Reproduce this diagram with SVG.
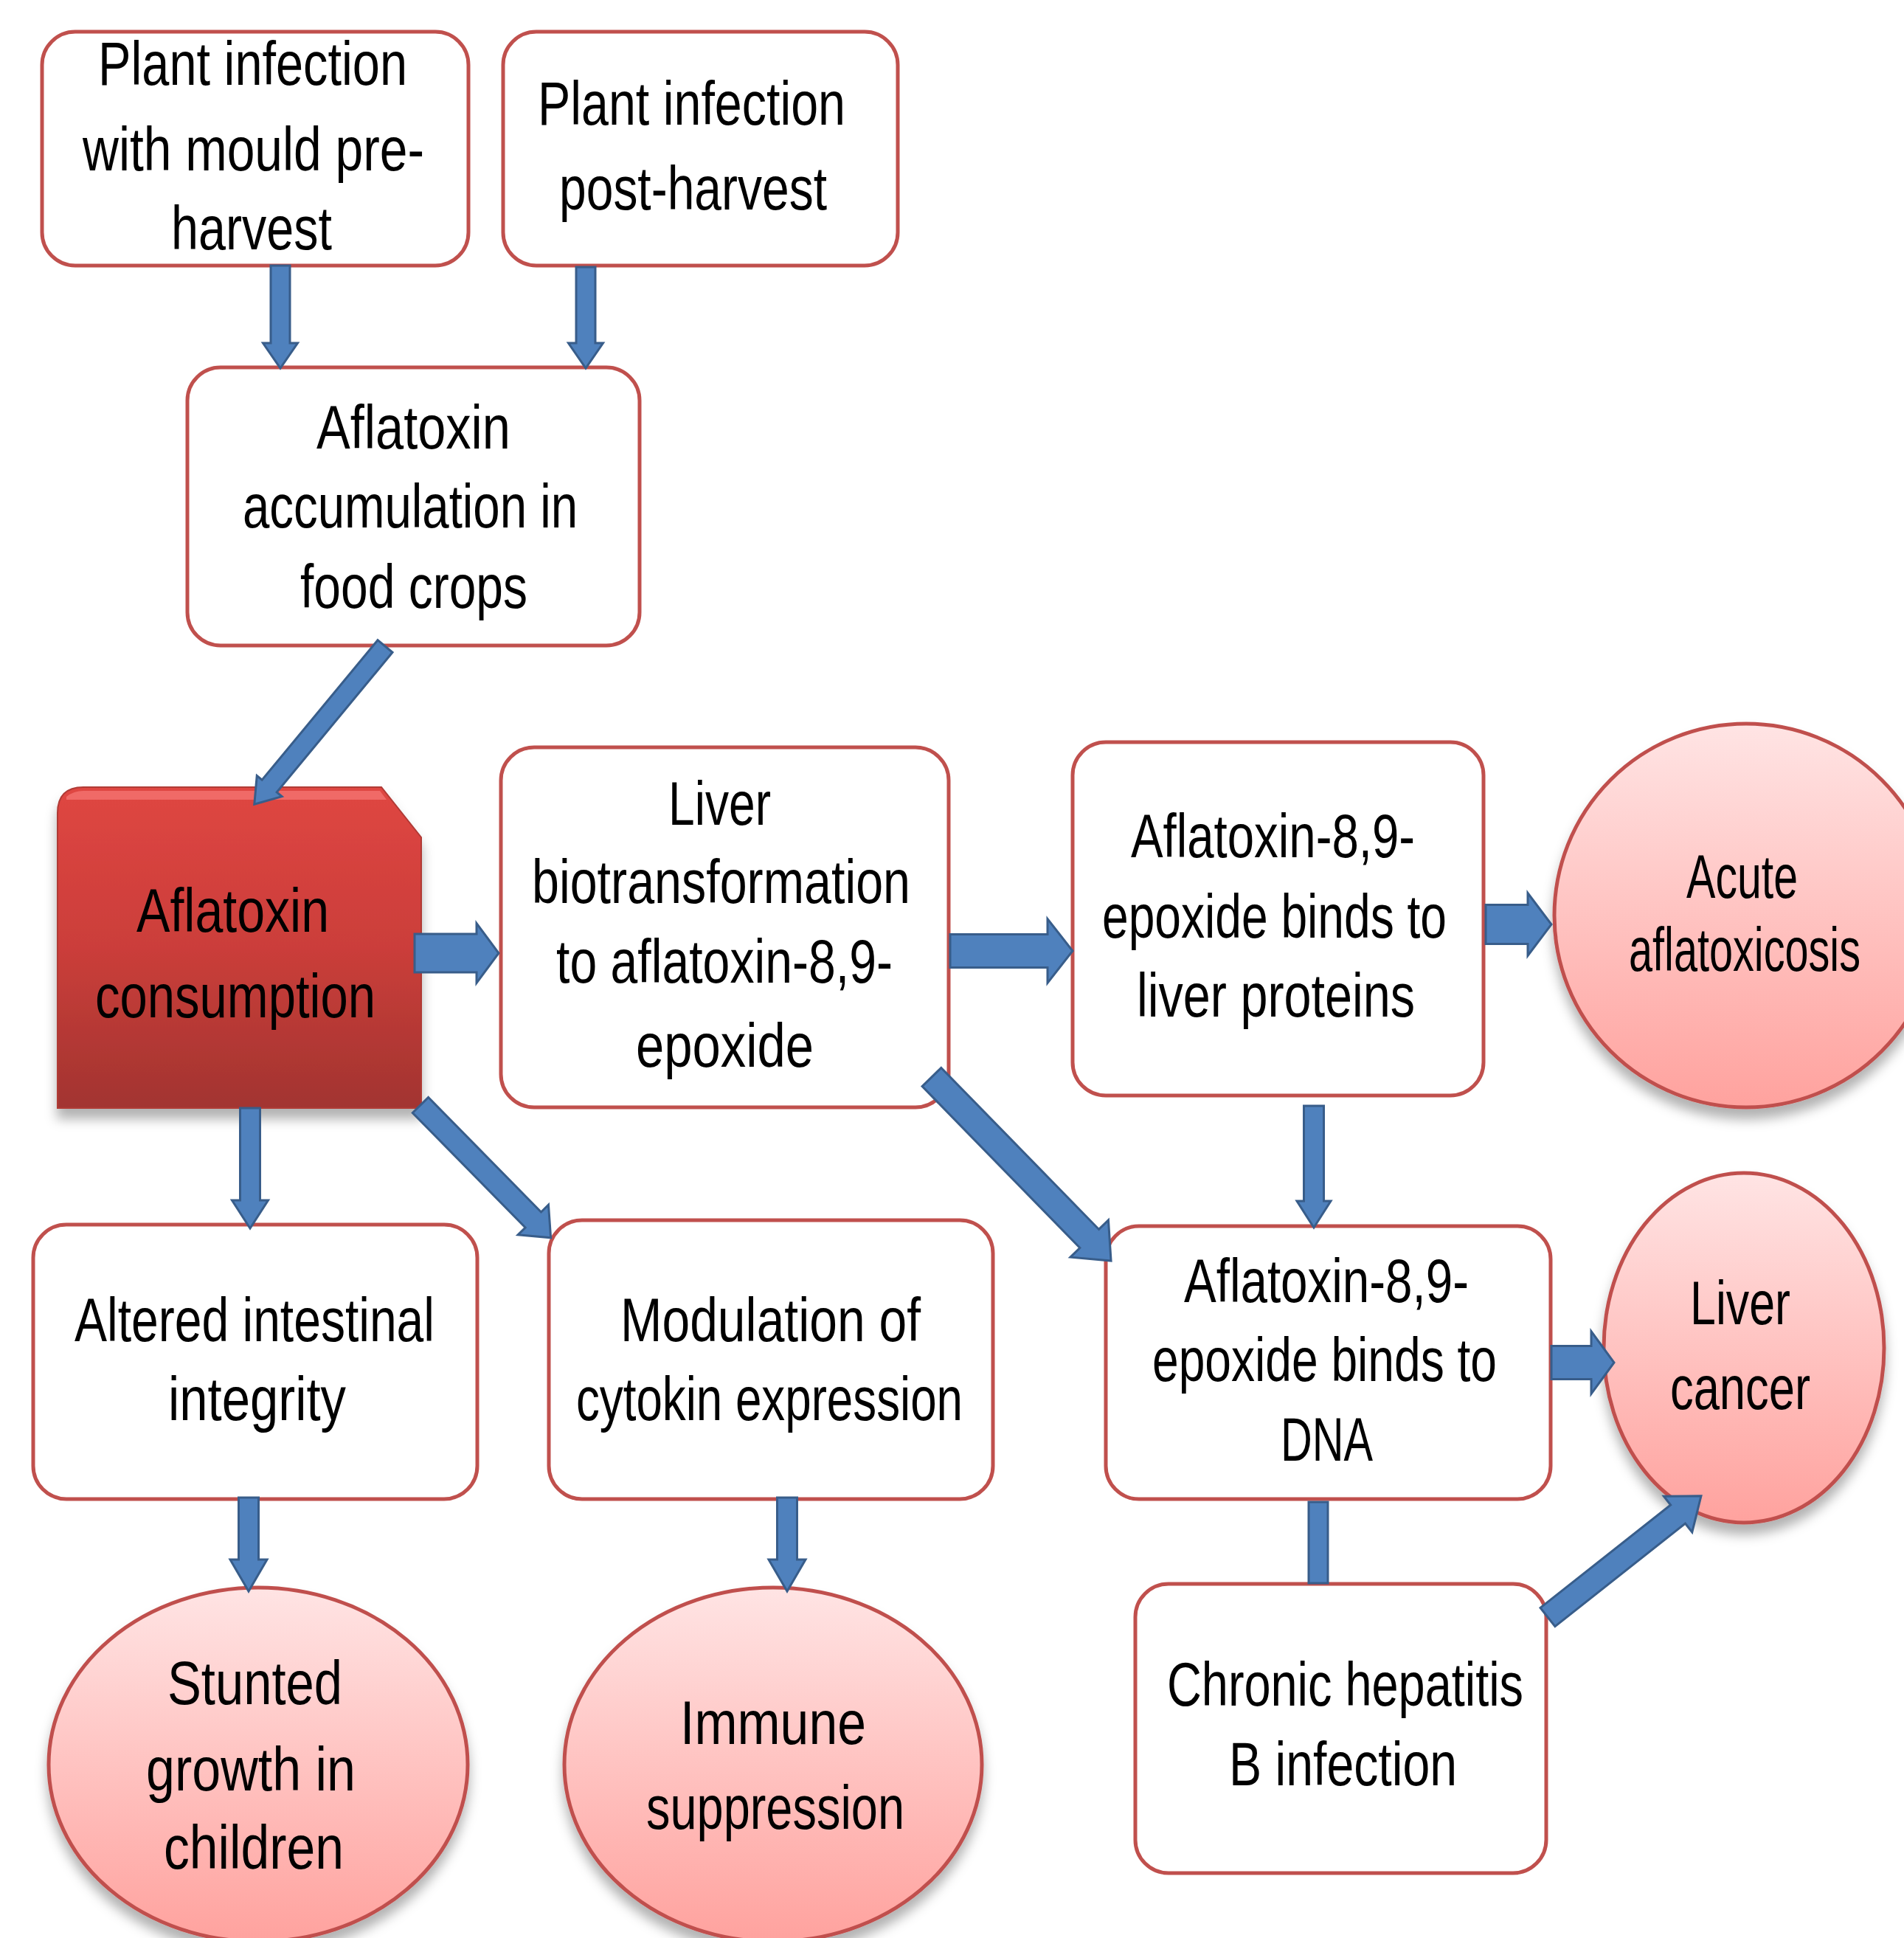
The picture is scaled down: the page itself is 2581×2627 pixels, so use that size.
<svg xmlns="http://www.w3.org/2000/svg" width="2581" height="2627" viewBox="0 0 2581 2627">
<defs>
<linearGradient id="gRed" x1="0" y1="0" x2="0" y2="1">
<stop offset="0" stop-color="#DF4642"/>
<stop offset="0.5" stop-color="#CB3E3A"/>
<stop offset="1" stop-color="#A23430"/>
</linearGradient>
<linearGradient id="gPink" x1="0" y1="0" x2="0" y2="1">
<stop offset="0" stop-color="#FFE4E4"/>
<stop offset="1" stop-color="#FFA29E"/>
</linearGradient>
<filter id="sh" x="-20%" y="-20%" width="140%" height="140%">
<feDropShadow dx="0" dy="14" stdDeviation="8" flood-color="#000" flood-opacity="0.3"/>
</filter>
</defs>
<style>
.box{fill:#FFFFFF;stroke:#C0504D;stroke-width:5}
.ell{fill:url(#gPink);stroke:#C0504D;stroke-width:5}
.arr{fill:#4F81BD;stroke:#385D8A;stroke-width:3}
text{font-family:"Liberation Sans",Arial,sans-serif;font-size:84px;fill:#000}
</style>
<rect width="2581" height="2627" fill="#FFFFFF"/>

<g id="n1"><rect class="box" x="57" y="43" width="578" height="317" rx="45"/>
<text x="133" y="115" textLength="419" lengthAdjust="spacingAndGlyphs">Plant infection</text>
<text x="112" y="231" textLength="463" lengthAdjust="spacingAndGlyphs">with mould pre-</text>
<text x="232" y="338" textLength="218" lengthAdjust="spacingAndGlyphs">harvest</text></g>

<g id="n2"><rect class="box" x="682" y="43" width="535" height="317" rx="45"/>
<text x="729" y="169" textLength="417" lengthAdjust="spacingAndGlyphs">Plant infection</text>
<text x="758" y="284" textLength="363" lengthAdjust="spacingAndGlyphs">post-harvest</text></g>

<g id="n3"><rect class="box" x="254" y="498" width="613" height="377" rx="45"/>
<text x="429" y="608" textLength="263" lengthAdjust="spacingAndGlyphs">Aflatoxin</text>
<text x="329" y="715" textLength="454" lengthAdjust="spacingAndGlyphs">accumulation in</text>
<text x="407" y="824" textLength="308" lengthAdjust="spacingAndGlyphs">food crops</text></g>

<g id="n4"><path d="M78,1102 Q78,1067 113,1067 L517,1067 L571,1135 L571,1502 L78,1502 Z" fill="url(#gRed)" stroke="#B03A36" stroke-width="2" filter="url(#sh)"/>
<path d="M90,1080 Q100,1072 113,1072 L515,1072 L524,1084 L90,1084 Z" fill="#F47370" opacity="0.8"/>
<text x="185" y="1263" textLength="261" lengthAdjust="spacingAndGlyphs" fill="#1A0505">Aflatoxin</text>
<text x="129" y="1379" textLength="380" lengthAdjust="spacingAndGlyphs" fill="#1A0505">consumption</text></g>

<g id="n5"><rect class="box" x="679" y="1013" width="607" height="488" rx="45"/>
<text x="906" y="1118" textLength="139" lengthAdjust="spacingAndGlyphs">Liver</text>
<text x="721" y="1224" textLength="513" lengthAdjust="spacingAndGlyphs">biotransformation</text>
<text x="754" y="1332" textLength="456" lengthAdjust="spacingAndGlyphs">to aflatoxin-8,9-</text>
<text x="862" y="1446" textLength="241" lengthAdjust="spacingAndGlyphs">epoxide</text></g>

<g id="n6"><rect class="box" x="1454" y="1006" width="557" height="479" rx="45"/>
<text x="1533" y="1162" textLength="385" lengthAdjust="spacingAndGlyphs">Aflatoxin-8,9-</text>
<text x="1494" y="1271" textLength="467" lengthAdjust="spacingAndGlyphs">epoxide binds to</text>
<text x="1541" y="1378" textLength="377" lengthAdjust="spacingAndGlyphs">liver proteins</text></g>

<g id="n7"><ellipse class="ell" cx="2367" cy="1241" rx="260" ry="260" filter="url(#sh)"/>
<text x="2286" y="1217" textLength="151" lengthAdjust="spacingAndGlyphs">Acute</text>
<text x="2208" y="1316" textLength="314" lengthAdjust="spacingAndGlyphs">aflatoxicosis</text></g>

<g id="n8"><rect class="box" x="45" y="1660" width="602" height="372" rx="45"/>
<text x="101" y="1818" textLength="488" lengthAdjust="spacingAndGlyphs">Altered intestinal</text>
<text x="228" y="1925" textLength="241" lengthAdjust="spacingAndGlyphs">integrity</text></g>

<g id="n9"><rect class="box" x="744" y="1654" width="602" height="378" rx="45"/>
<text x="841" y="1818" textLength="407" lengthAdjust="spacingAndGlyphs">Modulation of</text>
<text x="781" y="1925" textLength="524" lengthAdjust="spacingAndGlyphs">cytokin expression</text></g>

<g id="n10"><rect class="box" x="1499" y="1662" width="603" height="370" rx="45"/>
<text x="1605" y="1765" textLength="386" lengthAdjust="spacingAndGlyphs">Aflatoxin-8,9-</text>
<text x="1562" y="1872" textLength="467" lengthAdjust="spacingAndGlyphs">epoxide binds to</text>
<text x="1736" y="1980" textLength="125" lengthAdjust="spacingAndGlyphs">DNA</text></g>

<g id="n11"><ellipse class="ell" cx="2364" cy="1827" rx="190" ry="237" filter="url(#sh)"/>
<text x="2291" y="1795" textLength="136" lengthAdjust="spacingAndGlyphs">Liver</text>
<text x="2264" y="1910" textLength="190" lengthAdjust="spacingAndGlyphs">cancer</text></g>

<g id="n12"><rect class="box" x="1539" y="2147" width="557" height="392" rx="45"/>
<text x="1582" y="2312" textLength="483" lengthAdjust="spacingAndGlyphs">Chronic hepatitis</text>
<text x="1666" y="2420" textLength="309" lengthAdjust="spacingAndGlyphs">B infection</text></g>

<g id="n13"><ellipse class="ell" cx="350" cy="2392" rx="284" ry="240" filter="url(#sh)"/>
<text x="227" y="2310" textLength="237" lengthAdjust="spacingAndGlyphs">Stunted</text>
<text x="198" y="2427" textLength="284" lengthAdjust="spacingAndGlyphs">growth in</text>
<text x="222" y="2533" textLength="244" lengthAdjust="spacingAndGlyphs">children</text></g>

<g id="n14"><ellipse class="ell" cx="1048" cy="2392" rx="283" ry="240" filter="url(#sh)"/>
<text x="922" y="2364" textLength="252" lengthAdjust="spacingAndGlyphs">Immune</text>
<text x="876" y="2479" textLength="350" lengthAdjust="spacingAndGlyphs">suppression</text></g>

<g id="connectors">
<path class="arr" transform="translate(380,360) rotate(90)" d="M0,-13 H105 V-23.5 L139,0 L105,23.5 V13 H0 Z"/>
<path class="arr" transform="translate(794,362) rotate(90)" d="M0,-13 H103 V-23.5 L137,0 L103,23.5 V13 H0 Z"/>
<path class="arr" transform="translate(522,876) rotate(129.6)" d="M0,-13 H246 V-22 L278,0 L246,22 V13 H0 Z"/>
<path class="arr" transform="translate(562,1292)" d="M0,-26 H84 V-40.5 L114,0 L84,40.5 V26 H0 Z"/>
<path class="arr" transform="translate(1288,1289)" d="M0,-22.5 H132 V-43.5 L166,0 L132,43.5 V22.5 H0 Z"/>
<path class="arr" transform="translate(2014,1253)" d="M0,-26.5 H57 V-42.5 L89,0 L57,42.5 V26.5 H0 Z"/>
<path class="arr" transform="translate(1781,1499) rotate(90)" d="M0,-13.5 H129 V-23 L165,0 L129,23 V13.5 H0 Z"/>
<path class="arr" transform="translate(1263,1460) rotate(45.7)" d="M0,-18 H306 V-36 L348,0 L306,36 V18 H0 Z"/>
<path class="arr" transform="translate(339,1502) rotate(90)" d="M0,-13.5 H125 V-24.5 L163,0 L125,24.5 V13.5 H0 Z"/>
<path class="arr" transform="translate(570,1498) rotate(45.5)" d="M0,-15 H218 V-29 L252,0 L218,29 V15 H0 Z"/>
<path class="arr" transform="translate(2103,1847)" d="M0,-22.5 H54 V-42.5 L85,0 L54,42.5 V22.5 H0 Z"/>
<rect class="arr" x="1774" y="2036" width="26" height="110"/>
<path class="arr" transform="translate(2098,2192) rotate(-38.3)" d="M0,-16 H225 V-31 L265,0 L225,31 V16 H0 Z"/>
<path class="arr" transform="translate(337,2030) rotate(90)" d="M0,-13.5 H84 V-25 L127,0 L84,25 V13.5 H0 Z"/>
<path class="arr" transform="translate(1067,2030) rotate(90)" d="M0,-13.5 H84 V-25 L127,0 L84,25 V13.5 H0 Z"/>
</g>
</svg>
